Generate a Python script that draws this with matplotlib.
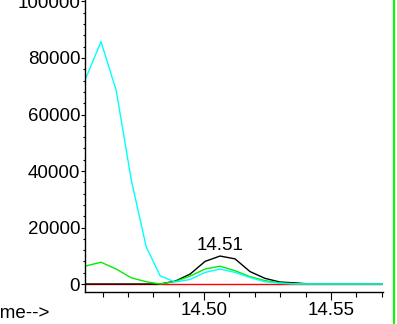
import matplotlib
matplotlib.use("Agg")
import matplotlib.pyplot as plt
from matplotlib.ticker import MultipleLocator
from matplotlib.lines import Line2D

plt.rcParams['font.family'] = ['Liberation Sans', 'DejaVu Sans']

times = [14.4535, 14.4594, 14.4654, 14.4713, 14.4772, 14.4827, 14.4886,
         14.4945, 14.5004, 14.5063, 14.5122, 14.5181, 14.5240, 14.5299,
         14.5358, 14.5417, 14.5476, 14.5535, 14.5594, 14.5654, 14.5713]
red_trace = [0] * 21
black_trace = [0, 0, 0, 0, 0, 0, 1000, 3500, 8000, 9900, 8900, 4400, 2000,
               700, 400, 0, 0, 0, 0, 0, 0]
green_trace = [6400, 7700, 5300, 2200, 800, 0, 900, 2800, 5300, 6300, 4700,
               2600, 1200, 400, 100, 0, 0, 0, 0, 0, 0]
cyan_trace = [73000, 85800, 68500, 37000, 13200, 2900, 700, 1600, 4100, 5300,
              4100, 2300, 800, 250, 0, 0, 0, 0, 0, 0, 0]
peak_label = "14.51"
peak_time = 14.5063
peak_value = 9900
x_label = "Time-->"

W, H = 397, 324
fig = plt.figure(figsize=(W / 100, H / 100), dpi=100)
ax = fig.add_axes([85 / W, 1 - 292 / H, (383 - 85) / W, 292 / H])

lw = 1.0
ax.plot(times, red_trace, color='#ff0000', lw=lw)
ax.plot(times, black_trace, color='#000000', lw=lw)
ax.plot(times, green_trace, color='#00ee00', lw=lw)
ax.plot(times, cyan_trace, color='#00ffff', lw=lw)

ax.set_xlim(14.4531, 14.5705)
ax.set_ylim(-2830, 100530)

for s in ['top', 'right']:
    ax.spines[s].set_visible(False)
for s in ['left', 'bottom']:
    ax.spines[s].set_linewidth(1.0)

fs = 13.5
ax.xaxis.set_major_locator(MultipleLocator(0.05))
ax.xaxis.set_minor_locator(MultipleLocator(0.01))
ax.yaxis.set_major_locator(MultipleLocator(20000))
ax.yaxis.set_minor_locator(MultipleLocator(4000))
ax.xaxis.set_major_formatter(matplotlib.ticker.FormatStrFormatter('%.2f'))
ax.yaxis.set_major_formatter(matplotlib.ticker.FormatStrFormatter('%d'))

ax.tick_params(axis='x', which='major', length=5.8, width=0.8, labelsize=fs, pad=1.5)
ax.tick_params(axis='x', which='minor', length=3.6, width=0.8)
ax.tick_params(axis='y', which='major', length=3, width=0.8, labelsize=fs, pad=0.5)
ax.tick_params(axis='y', which='minor', length=1.8, width=0.8)

ax.annotate(peak_label, xy=(peak_time, peak_value), xytext=(0, 1.5),
            textcoords='offset points', ha='center', va='bottom', fontsize=fs)

fig.text(50 / W, 1 - 313 / H, x_label, ha='right', va='center', fontsize=fs)

fig.add_artist(Line2D([393.5 / W, 393.5 / W], [0, 1], color='#00ff00', lw=1.5,
                      transform=fig.transFigure))

fig.savefig("out.png", dpi=100)
